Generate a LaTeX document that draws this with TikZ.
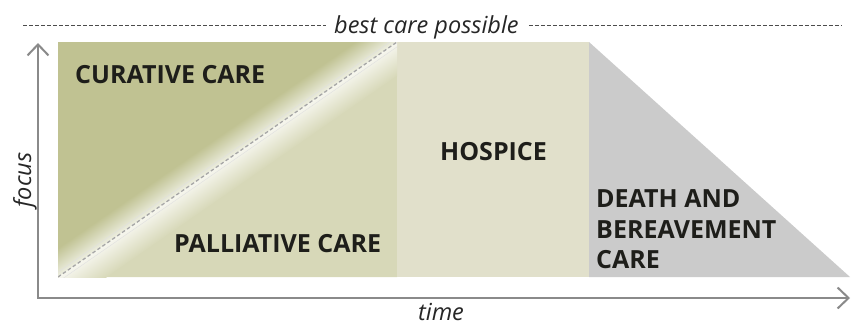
\documentclass[tikz,border=0pt]{standalone}
\usepackage{fontspec}
\setmainfont{Open Sans}
\usetikzlibrary{arrows.meta}
\definecolor{curcol}{HTML}{C0C292}
\definecolor{palcol}{HTML}{D7D8B8}
\definecolor{hoscol}{HTML}{E1E0CB}
\definecolor{deacol}{HTML}{CBCBCB}
\definecolor{axcol}{HTML}{8A8A8A}
\definecolor{txtcol}{HTML}{1E1E1A}
\definecolor{glowa}{HTML}{EEEFE2}
\definecolor{glowb}{HTML}{F6F6EE}
\tikzset{
  boldlabel/.style={font=\bfseries\fontsize{25}{30}\selectfont, text=txtcol, inner sep=0pt, anchor=base west},
  itlabel/.style={font=\itshape\fontsize{23.5}{28}\selectfont, text=black!85, inner sep=0pt},
  topdash/.style={draw=black!70, line width=1pt, dash pattern=on 4pt off 2pt},
  diagdash/.style={draw=black!35, line width=1.3pt, dash pattern=on 3.5pt off 2.5pt},
  axisline/.style={draw=axcol, line width=2.2pt, line join=miter,
    {Straight Barb[length=11pt, width=21pt, line width=2pt]}-{Straight Barb[length=11pt, width=21pt, line width=2pt]}}
}
\begin{document}
\begin{tikzpicture}[x=1pt, y=-1pt]
\useasboundingbox (0,0) rectangle (851,327);
% regions
\coordinate (rtl) at (58,42);
\coordinate (rtr) at (397,42);
\coordinate (rbl) at (58,277);
\coordinate (rbr) at (397,277);
\coordinate (htr) at (589,42);
\coordinate (hbr) at (589,277);
\coordinate (dbr) at (850,277);
\fill[curcol] (rtl) -- (rtr) -- (rbl) -- cycle;
\fill[palcol] (rbl) -- (rtr) -- (rbr) -- cycle;
\fill[hoscol] (rtr) rectangle (hbr);
\fill[deacol] (htr) -- (hbr) -- (dbr) -- cycle;
% glow along the diagonal
\begin{scope}
  \clip (rtl) rectangle (rbr);
  \begin{scope}[transform canvas={shift={(58,277)}, rotate=34.73}]
    \shade[top color=curcol, bottom color=glowa] (-30pt,0pt) rectangle (450pt,24pt);
    \shade[top color=glowb, bottom color=palcol] (-30pt,-28pt) rectangle (450pt,0pt);
    \draw[draw=black!12, line width=0.4pt] (-30pt,4pt) -- (450pt,4pt);
    \draw[draw=black!12, line width=0.4pt] (-30pt,-4pt) -- (450pt,-4pt);
  \end{scope}
  \draw[diagdash] (rbl) -- (rtr);
\end{scope}
% axes
\coordinate (ytop) at (38,43);
\coordinate (orig) at (38,298);
\coordinate (xend) at (850,298);
\draw[axisline] (ytop) -- (orig) -- (xend);
% labels
\node[boldlabel] (cur) at (75,83) {CURATIVE CARE};
\node[boldlabel] (pal) at (174,252) {PALLIATIVE CARE};
\node[boldlabel] (hos) at (440,160) {HOSPICE};
\node[boldlabel] (dea1) at (596,207) {DEATH AND};
\node[boldlabel] (dea2) at (596,238) {BEREAVEMENT};
\node[boldlabel] (dea3) at (596,268) {CARE};
% best care possible
\node[itlabel, anchor=base west] (best) at (334,33) {best care possible};
\coordinate (dl) at (23,25);
\coordinate (dr) at (842,25);
\draw[topdash] (dl) -- ([xshift=-8pt]dl -| best.west);
\draw[topdash] ([xshift=10pt]dr -| best.east) -- (dr);
\node[itlabel, anchor=base, rotate=90] (focus) at (31,180) {focus};
\node[itlabel, anchor=base] (time) at (441,320) {time};
\end{tikzpicture}
\end{document}
